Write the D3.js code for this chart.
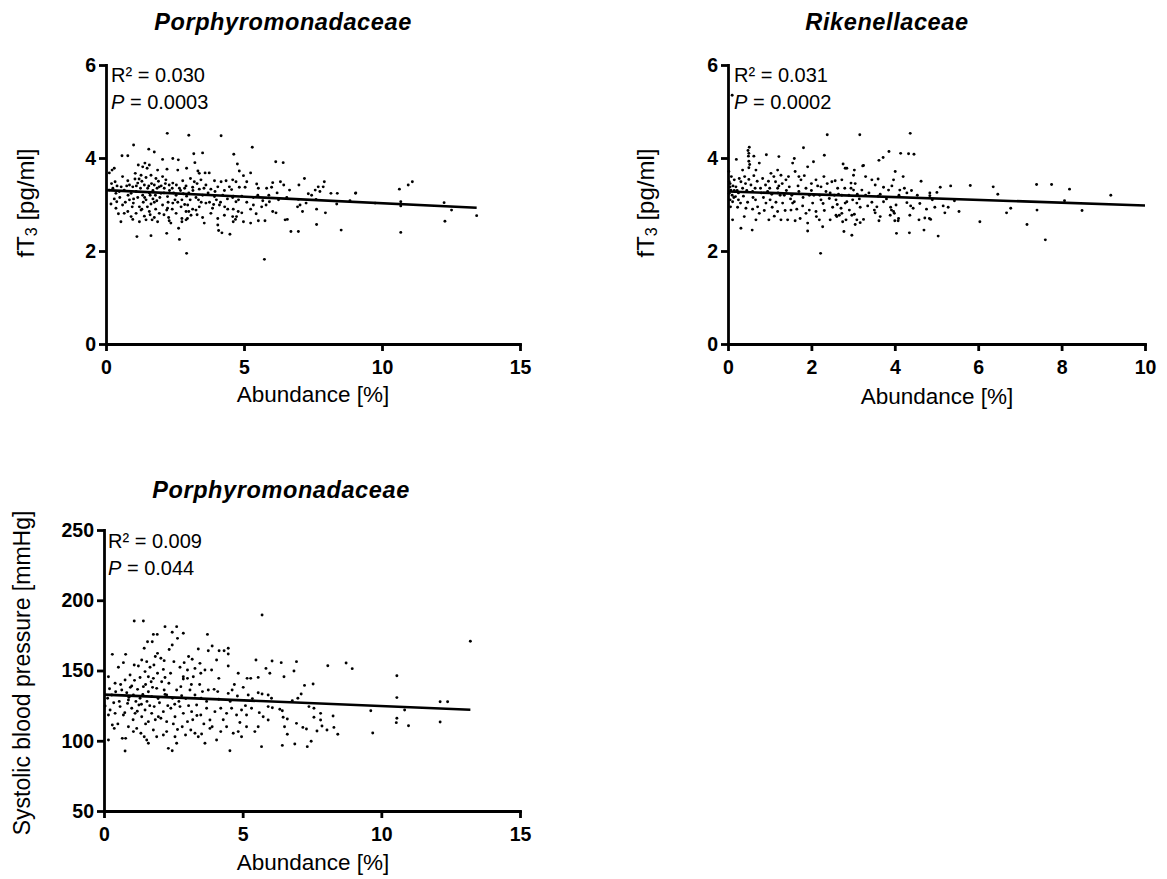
<!DOCTYPE html>
<html><head><meta charset="utf-8">
<script src="https://cdn.jsdelivr.net/npm/d3@7"></script>
<style>
body{margin:0;background:#fff}
svg{display:block}
text{font-family:"Liberation Sans",Arial,sans-serif;fill:#000}
</style>
</head><body>
<svg id="c" width="1167" height="879"></svg>
<script>
// ---------------- DATA ----------------
const panelTitles = ["Porphyromonadaceae", "Rikenellaceae", "Porphyromonadaceae"];
const xTicksPorph = [0, 5, 10, 15];
const xTicksRiken = [0, 2, 4, 6, 8, 10];
const yTicksFT3 = [0, 2, 4, 6];
const yTicksSBP = [50, 100, 150, 200, 250];
const statsR2 = ["0.030", "0.031", "0.009"];
const statsP = ["0.0003", "0.0002", "0.044"];

// regression lines [x, y] endpoints
const fitPorphFT3 = [[0, 3.31], [13.43, 2.93]];
const fitRikenFT3 = [[0, 3.28], [10, 2.98]];
const fitPorphSBP = [[0, 132.8], [13.21, 122.1]];

// Porphyromonadaceae abundance [%] vs fT3 [pg/ml]
const porphFT3 = [
[2.22,4.53],[3.0,4.49],[4.17,4.48],[1.0,4.28],[1.55,4.19],[1.75,4.13],[0.58,4.05],[0.79,4.05],[3.18,4.09],[3.5,4.11],[4.63,4.08],
[2.05,3.97],[2.42,3.99],[2.62,3.96],[1.41,3.89],[1.17,3.85],[1.57,3.85],[1.33,3.81],[1.49,3.78],[1.87,3.74],[2.21,3.76],[2.6,3.74],[2.92,3.78],[3.22,3.9],[3.74,3.68],[3.59,3.68],[3.38,3.67],[3.33,3.72],[0.22,3.74],[0.12,3.68],[0.3,3.78],
[1.06,3.67],[1.27,3.63],[1.63,3.63],[1.81,3.56],[2.05,3.6],[2.17,3.53],[2.42,3.46],[2.78,3.51],[3.06,3.56],[3.2,3.49],[3.44,3.53],[3.93,3.51],[4.17,3.49],[4.35,3.51],[4.59,3.53],
[0.33,3.49],[0.79,3.51],[0.85,3.42],[0.97,3.38],[1.15,3.46],[1.39,3.42],[1.51,3.35],[1.75,3.42],[1.93,3.38],[2.11,3.35],[2.29,3.42],[2.66,3.35],[2.9,3.4],[3.14,3.37],[3.38,3.33],[3.62,3.42],[3.8,3.33],[4.05,3.38],[4.29,3.3],[4.47,3.38],
[0.12,3.31],[0.36,3.24],[0.48,3.28],[0.66,3.31],[0.91,3.24],[1.09,3.28],[1.33,3.2],[1.57,3.25],[1.79,3.2],[1.99,3.24],[2.23,3.17],[2.54,3.2],[2.8,3.23],[2.92,3.18],[3.26,3.15],[3.5,3.2],[3.93,3.17],[4.23,3.2],[4.59,3.15],
[0.18,3.01],[0.39,3.06],[0.6,2.99],[0.85,3.1],[0.99,3.03],[1.21,2.95],[1.45,3.1],[1.63,3.01],[1.84,3.08],[2.05,2.99],[2.23,2.92],[2.42,3.03],[2.72,2.95],[2.96,2.99],[3.14,2.9],[3.38,2.95],[3.62,3.03],[3.86,2.92],[4.11,2.99],[4.41,2.9],
[0.66,2.81],[0.79,2.85],[0.91,2.74],[1.09,2.81],[1.27,2.88],[1.39,2.75],[1.57,2.85],[1.75,2.72],[1.93,2.81],[2.2,2.88],[2.27,2.72],[2.54,2.81],[2.75,2.7],[2.9,2.85],[3.08,2.77],[3.26,2.88],[3.5,2.72],[3.8,2.81],[4.05,2.7],[4.29,2.77],[4.59,2.74],[4.69,2.68],
[0.36,2.92],[0.54,2.63],[0.97,2.68],[1.21,2.63],[1.45,2.67],[1.67,2.67],[1.87,2.63],[2.29,2.65],[2.35,2.6],[2.75,2.63],[2.95,2.7],[3.56,2.6],[4.05,2.56],[2.9,2.67],
[2.2,2.38],[1.63,2.33],[1.12,2.31],[2.66,2.25],[2.92,1.95],[2.63,2.49],[4.08,2.44],[4.2,2.39],[4.49,2.36],
[1.2,3.55],[1.3,3.5],[1.45,3.58],[1.65,3.45],[1.7,3.3],[1.85,3.35],[1.95,3.15],[2.1,3.25],[2.3,3.3],[2.45,3.25],[2.5,3.1],[2.6,3.05],[2.7,3.3],[2.85,3.35],[1.15,3.15],[1.35,3.05],[1.5,2.95],[1.7,3.12],[1.8,2.9],[2.0,3.4],[0.5,3.15],[0.7,3.05],[0.8,3.2],[1.0,3.12],[0.25,3.35],[0.4,3.4],[3.0,3.25],[3.3,3.45],[3.7,3.25],[4.0,3.1],[3.9,3.0],[3.45,3.05],
[1.1,3.4],[1.25,3.35],[1.4,3.15],[1.55,3.4],[1.6,3.2],[1.75,3.05],[1.9,3.5],[2.15,3.45],[2.25,3.05],[2.4,3.35],[2.55,3.42],[2.75,3.1],[2.85,3.0],[3.05,3.1],[3.15,3.3],[3.35,3.1],[3.55,3.35],[3.75,3.05],[3.95,3.28],[4.15,3.05],[4.4,3.12],[4.55,3.32],[0.55,3.38],[0.75,3.4],[0.95,2.95],[1.05,3.55],[0.3,3.12],[0.2,3.45],[0.6,3.6],[0.45,2.8],[1.3,2.9],[1.6,2.78],[2.1,2.78],[2.4,2.9],[3.0,2.85],[3.3,2.78],[4.3,2.95],[4.8,3.1],[5.5,3.2],[6.2,3.25],[5.1,3.05],[5.9,3.2],
[5.30,4.23],[4.76,3.87],[4.83,3.72],[4.98,3.62],[5.24,3.68],[6.15,3.92],[6.42,3.9],[4.71,3.49],[4.83,3.37],[5.04,3.37],[5.1,3.49],[5.46,3.44],[5.52,3.35],[5.82,3.35],[6.04,3.47],[6.0,3.37],[6.32,3.49],[6.44,3.42],[6.65,3.31],[6.99,3.42],[7.19,3.56],[7.33,3.23],[7.45,3.2],[7.58,3.31],[7.69,3.38],[7.75,3.28],[7.91,3.49],[7.87,3.38],[8.15,3.24],[8.38,3.24],[9.05,3.25],
[4.61,3.18],[4.92,3.18],[5.34,3.15],[5.68,3.08],[5.92,3.06],[6.25,3.1],[6.55,3.15],[6.97,3.11],[7.25,3.03],[7.61,3.11],[8.36,3.01],[8.84,3.08],
[4.71,3.06],[4.61,2.9],[4.79,2.85],[4.92,2.82],[4.73,2.74],[5.24,2.9],[5.34,2.99],[5.44,2.8],[5.64,2.95],[5.8,2.99],[6.04,2.85],[6.16,2.82],[6.49,2.67],[6.57,2.68],[6.94,2.95],[7.03,2.99],[7.12,2.85],[7.63,2.9],[7.95,2.82],[7.63,2.57],[4.61,2.63],[4.98,2.63],[5.24,2.6],[5.52,2.65],[5.76,2.65],[6.7,2.42],[6.97,2.42],[8.52,2.45],[5.74,1.82],
[9.04,3.24],[10.63,3.33],[10.95,3.42],[11.1,3.49],[9.75,3.03],[10.68,3.06],[10.68,2.97],[12.25,3.04],[12.52,2.88],[13.43,2.76],[12.28,2.64],[10.68,2.4]
];

// Rikenellaceae abundance [%] vs fT3 [pg/ml]
const rikenFT3 = [
[0.1,5.35],
[2.38,4.50],[3.16,4.50],[4.37,4.53],[1.81,4.22],[0.51,4.23],[0.48,4.16],[0.5,4.1],[0.49,4.04],[0.5,3.93],[0.52,3.86],[0.5,3.79],[0.62,4.04],
[3.86,4.14],[4.14,4.1],[4.33,4.09],[4.46,4.08],[3.62,3.95],[3.72,4.01],[0.92,4.07],[1.22,4.03],[0.2,3.97],[1.59,3.99],[2.05,3.92],[2.31,4.06],[2.76,3.87],[3.03,3.74],[3.25,3.84],[4.01,3.71],[4.63,3.5],[5.09,3.37],[5.34,3.4],[5.81,3.41],[6.36,3.38],[6.47,3.22],[7.4,3.43],[7.76,3.43],[8.19,3.33],[9.18,3.2],[8.07,3.08],[8.49,2.87],[7.41,2.88],[7.17,2.57],[7.61,2.24],[6.04,2.63],[6.68,2.82],[6.78,2.92],[5.54,2.85],[5.2,2.82],[5.28,2.94],[5.43,3.08],[5.01,3.26],[4.84,3.19],[4.9,3.1],[4.72,2.71],[4.86,2.68],[4.7,2.45],[5.04,2.32],[4.35,2.39],[4.04,2.38],[4.08,2.65],[3.92,2.88],[3.99,2.81],[3.62,2.65],[3.51,2.88],[2.97,2.34],[2.78,2.42],[2.22,1.95],[1.91,2.43],[0.58,2.45],[0.31,2.49],[0.11,2.67],
[0.02,3.71],[0.03,3.49],[0.05,3.38],[0.07,3.31],[0.03,3.24],[0.1,3.2],[0.05,3.1],[0.11,3.06],[0.06,2.95],[0.15,3.53],[0.19,3.38],[0.18,3.17],[0.23,2.94],[0.27,3.56],[0.31,3.49],[0.35,3.35],[0.37,3.18],[0.3,3.03],[0.43,2.92],[0.39,2.74],[0.5,3.54],[0.55,3.42],[0.59,3.28],[0.66,3.1],[0.71,2.95],[0.75,2.81],[0.67,2.67],[0.83,3.56],[0.9,3.42],[0.95,3.28],[1.01,3.1],[1.06,2.94],[1.11,2.75],[1.03,3.67],[1.14,3.49],[1.19,3.35],[1.25,3.2],[1.31,3.03],[1.37,2.87],[1.43,2.67],[1.19,3.74],[1.27,3.63],[1.39,3.53],[1.47,3.38],[1.53,3.2],[1.59,3.06],[1.65,2.9],[1.73,2.7],[1.61,3.71],[1.75,3.53],[1.87,3.35],[1.95,3.2],[2.03,3.03],[2.11,2.85],[2.19,2.67],[2.27,2.52],[1.55,3.89],[1.91,3.81],[2.11,3.53],[2.23,3.38],[2.35,3.28],[2.43,3.13],[2.51,2.94],[2.59,2.77],[2.23,3.1],[2.49,3.49],[2.63,3.35],[2.73,3.2],[2.81,3.03],[2.91,2.88],[2.83,2.67],[2.95,3.46],[2.81,3.78],[2.99,3.1],[3.03,2.79],[3.01,3.63],[0.75,3.89],[0.35,3.74],[0.67,3.74],
[0.59,2.9],[0.87,2.87],[0.98,2.67],[1.19,2.85],[1.27,2.67],[1.51,2.88],[1.61,2.65],[1.87,2.81],[1.91,2.6],[2.12,2.74],[2.31,2.87],[2.45,2.67],[2.67,2.77],[2.75,2.63],[0.91,3.03],[1.55,3.03],[1.79,2.97],[1.95,2.88],[2.71,2.92],
[2.57,3.51],[2.73,3.53],[2.85,3.78],[3.23,3.83],[3.45,3.53],[3.53,3.42],[3.73,3.37],[3.85,3.31],[3.93,3.4],[3.97,3.53],[4.12,3.31],[4.23,3.35],[4.29,3.25],[4.54,3.2],[4.84,3.25],[3.21,3.31],[3.01,3.31],[2.95,3.35],
[2.59,3.1],[2.85,3.06],[3.09,3.03],[3.17,2.94],[3.35,2.97],[3.57,2.95],[3.73,3.06],[3.9,2.94],[3.97,2.85],[4.03,2.99],[4.29,3.04],[4.38,2.97],[4.44,2.92],[4.6,3.02],[4.76,2.9],[4.96,2.94],[5.16,2.97],
[2.61,2.74],[2.73,2.81],[2.97,2.77],[3.09,2.67],[3.25,2.68],[3.53,2.82],[3.65,2.74],[3.89,2.77],[4.0,2.65],[4.09,2.7],[4.36,2.77],[4.58,2.67],[4.83,2.7],[3.05,2.57],[3.17,2.61],
[0.15,3.3],[0.25,3.25],[0.45,3.3],[0.65,3.35],[0.8,3.25],[1.0,3.35],[1.2,3.25],[1.4,3.3],[1.7,3.28],[2.0,3.3],[2.2,3.2],[2.45,3.25],[2.65,3.22],[2.9,3.2],[3.1,3.22],[3.3,3.2],[3.6,3.18],[0.4,3.6],[0.7,3.5],[1.1,3.6],[1.3,3.45],[1.7,3.6],[2.0,3.45],[2.3,3.6],
[0.05,3.45],[0.08,3.6],[0.12,3.4],[0.14,3.15],[0.22,3.3],[0.25,3.1],[0.42,3.45],[0.47,3.05],[0.6,3.15],[0.62,3.62],[0.78,3.35],[0.85,3.15],[0.97,3.5],[1.05,3.22],[1.15,3.05],[1.22,3.4],[1.35,3.2],[1.45,3.6],[1.5,3.12],[1.68,3.4],[1.8,3.15],[1.83,3.62],[2.06,3.2],[2.15,3.4],[2.28,3.02],[2.38,3.45],[2.55,3.2],[2.62,3.0],[2.8,3.35],[3.05,3.45],[3.15,3.12],[3.38,3.25],[3.45,3.05],[3.65,3.22],[3.8,3.12],[4.1,3.2],[4.4,3.3],[4.2,3.6],[3.3,3.6],[3.6,3.55]
];

// Porphyromonadaceae abundance [%] vs systolic blood pressure [mmHg]
const porphSBP = [
[1.09,185.2],[1.42,185.2],[2.2,181.2],[2.62,181.2],[2.46,177.2],[2.65,172.9],[2.86,176.5],[1.78,175.7],[1.92,175.7],[1.57,170.5],[1.74,170.5],[2.46,168.1],[3.73,175.7],[3.9,167.4],[3.76,164.1],[4.15,164.1],[4.33,164.1],[4.48,165.8],[5.7,189.5],[1.45,165.8],[1.93,162.2],[2.05,158.7],[2.17,157],[0.3,161.5],[0.78,161.5],[3.4,165.3],[4.48,161.7],[5.48,157.5],[6.06,156.8],[5.84,151.5],[5.98,148],
[0.52,152.3],[0.7,155.6],[1.09,153.9],[1.24,153.2],[1.36,157.5],[1.54,156.3],[1.66,152.3],[1.8,153.9],[1.48,149.2],[1.6,145.6],[1.78,144.4],[1.93,148],[2.14,150.8],[2.52,156.3],[2.74,152.3],[2.89,155.6],[3.01,150.4],[3.18,158],[3.28,151.5],[3.46,155.1],[2.86,145.6],[3.01,144.4],[3.22,145.6],[3.49,148],[3.64,150.4],[3.88,150.4],[4.06,157.5],[4.14,144.4],[4.48,153.2],[4.84,148],[5.16,144.4],[5.29,144.4],[5.56,145.1],[0.16,145.6],[0.4,140.9],[0.76,143.2],[0.94,146.8],[1.0,139],
[0.13,130.2],[0.28,132.6],[0.42,134.9],[0.64,136.1],[0.82,134.2],[0.88,129],[1.06,132.6],[1.21,136.6],[1.3,130.2],[1.42,138.5],[1.6,134.9],[1.72,131.4],[1.9,137.3],[2.08,142],[2.17,136.1],[2.26,132.6],[2.34,140.9],[2.47,130.2],[2.62,136.1],[2.77,138.5],[2.86,144],[3.1,136.1],[3.28,132.6],[3.5,130.2],[3.76,136.1],[3.97,136.6],[4.14,129.5],[4.48,133.7],[4.62,136.1],[4.81,131.9],[5.02,138],[5.2,132.6],[5.56,134.2],[5.7,133.3],[5.92,132.6],[6.04,130.2],
[0.04,124.7],[0.22,121.9],[0.4,119.5],[0.58,124.3],[0.7,118.3],[0.85,126.6],[1.0,123.1],[1.12,119.5],[1.26,125.4],[1.36,117.1],[1.48,121.9],[1.6,113.6],[1.72,119.5],[1.81,124.3],[1.96,117.1],[2.14,120.7],[2.26,113.6],[2.41,123.1],[2.56,117.1],[2.74,124.3],[2.86,119.5],[3.01,113.6],[3.16,120.7],[3.34,125.4],[3.49,118.3],[3.7,123.1],[3.82,114.8],[4.0,120.7],[4.21,123.1],[4.42,119.5],[4.6,123.1],[4.78,118.3],[4.96,121.9],[5.14,118.3],[5.32,123.1],[5.56,110],[5.74,117.1],[5.92,124.3],[5.92,114.8],
[0.16,118.3],[0.3,111.2],[0.37,108.8],[0.16,100.5],[0.66,101.7],[0.78,101.7],[0.76,92.7],[0.88,110],[1.06,106.5],[1.18,108.8],[1.33,105.3],[1.45,102.9],[1.54,100.5],[1.6,98.2],[1.78,107.6],[1.9,102.9],[2.14,104.1],[2.26,106.5],[2.32,94.6],[2.46,92.9],[2.56,102.9],[2.62,98.2],[2.82,110],[2.94,104.1],[3.13,107.6],[3.28,105.3],[3.4,102.9],[3.52,104.8],[3.64,98.2],[3.82,108.8],[4.06,100.5],[4.21,106.5],[4.42,110],[4.54,92.9],[4.66,105.3],[4.84,106.5],[4.96,102.9],[5.14,110],[5.44,106.5],[5.68,95.8],
[1.15,128],[1.35,126],[1.5,140],[1.55,128],[1.7,142],[1.85,115],[2.0,127],[2.2,145],[2.3,125],[2.5,112],[2.7,128],[2.95,130],[3.2,115],[3.45,140],[3.6,112],[1.3,145],[1.05,115],[0.95,138],[0.55,128],[0.5,112],
[0.6,140],[0.75,120],[0.9,131],[1.1,143],[1.2,121],[1.4,133],[1.5,112],[1.65,125],[1.75,138],[1.95,130],[2.05,116],[2.2,133],[2.4,148],[2.55,126],[2.65,108],[2.8,132],[3.05,125],[3.15,140],[3.35,118],[3.55,135],[3.7,128],[3.9,110],[4.1,135],[4.3,115],[4.55,128],[4.7,140],[4.9,113],[5.1,125],[5.35,130],[5.6,120],[0.35,127],[0.2,137],[1.85,160],[2.35,165],[3.05,160],
[6.39,155.6],[6.94,156.3],[6.85,149.6],[6.49,145.6],[7.23,139.4],[7.54,140.4],[7.11,133.3],[6.99,130.2],[6.79,128.5],[8.07,153.4],[8.73,155.3],[8.95,151.3],[10.56,146.3],[10.56,130.7],[10.84,121.9],[10.56,116],[10.54,112.9],[10.98,110.7],[12.12,127.8],[12.39,127.8],[12.12,113.3],[9.62,121.4],[9.69,105.5],[6.07,123.5],[6.34,122.4],[6.43,121.4],[6.46,116.7],[6.61,115.5],[6.51,110],[6.61,104.6],[6.43,96.7],[6.88,97.7],[7.33,95.8],[7.47,99.6],[7.39,124.3],[7.57,123.1],[7.57,116.7],[7.81,119.5],[7.81,114.8],[8.26,117.6],[7.86,110.5],[7.68,106.9],[8.04,107.6],[8.29,109.5],[8.43,104.6],[6.94,112.4],[7.17,109.5],[7.3,108.4],[13.21,170.8]
];

// ---------------- DRAW ----------------
const svg = d3.select("#c");

const panels = [
  {title: panelTitles[0], data: porphFT3, fit: fitPorphFT3, xDomain: [0, 15], yDomain: [0, 6], xTicks: xTicksPorph, yTicks: yTicksFT3,
   r2: statsR2[0], p: statsP[0], yLabel: "ft3",
   box: {left: 106, right: 520, top: 65, bottom: 344}, titleX: 283, titleY: 22, xLabX: 313, xLabY: 394, yLabX: 25, yLabY: 203, statX: 111, statY: 75},
  {title: panelTitles[1], data: rikenFT3, fit: fitRikenFT3, xDomain: [0, 10], yDomain: [0, 6], xTicks: xTicksRiken, yTicks: yTicksFT3,
   r2: statsR2[1], p: statsP[1], yLabel: "ft3",
   box: {left: 728, right: 1145, top: 65, bottom: 344}, titleX: 887, titleY: 22, xLabX: 937, xLabY: 396, yLabX: 645, yLabY: 203, statX: 734, statY: 75},
  {title: panelTitles[2], data: porphSBP, fit: fitPorphSBP, xDomain: [0, 15], yDomain: [50, 250], xTicks: xTicksPorph, yTicks: yTicksSBP,
   r2: statsR2[2], p: statsP[2], yLabel: "Systolic blood pressure [mmHg]",
   box: {left: 104, right: 520, top: 530, bottom: 811}, titleX: 281, titleY: 490, xLabX: 313, xLabY: 862, yLabX: 22, yLabY: 673, statX: 108, statY: 541}
];

panels.forEach(cfg => {
  const b = cfg.box;
  const g = svg.append("g");
  const x = d3.scaleLinear().domain(cfg.xDomain).range([b.left, b.right]);
  const y = d3.scaleLinear().domain(cfg.yDomain).range([b.bottom, b.top]);

  // points
  g.append("g").selectAll("circle").data(cfg.data).join("circle")
    .attr("cx", d => x(d[0])).attr("cy", d => y(d[1])).attr("r", 1.45).attr("fill", "#000");

  // regression line
  g.append("path").datum(cfg.fit)
    .attr("d", d3.line().x(d => x(d[0])).y(d => y(d[1])))
    .attr("stroke", "#000").attr("stroke-width", 2.6).attr("fill", "none");

  // axes
  const xa = g.append("g").attr("transform", `translate(0,${b.bottom})`)
    .call(d3.axisBottom(x).tickValues(cfg.xTicks).tickSize(7).tickSizeOuter(0).tickPadding(9).tickFormat(d3.format("d")));
  const ya = g.append("g").attr("transform", `translate(${b.left},0)`)
    .call(d3.axisLeft(y).tickValues(cfg.yTicks).tickSize(7).tickSizeOuter(0).tickPadding(3).tickFormat(d3.format("d")));
  [xa, ya].forEach(a => {
    a.select(".domain").attr("stroke", "#000").attr("stroke-width", 2.8).attr("stroke-linecap", "square");
    a.selectAll(".tick line").attr("stroke", "#000").attr("stroke-width", 2.8);
    a.selectAll(".tick text").attr("font-family", "Liberation Sans, Arial, sans-serif")
      .attr("font-size", 19.5).attr("font-weight", "bold").attr("fill", "#000");
  });

  // title
  g.append("text").attr("x", cfg.titleX).attr("y", cfg.titleY)
    .attr("text-anchor", "middle").attr("dominant-baseline", "central")
    .attr("font-size", 23.5).attr("font-weight", "bold").attr("font-style", "italic")
    .attr("letter-spacing", 0.6).text(cfg.title);

  // x label
  g.append("text").attr("x", cfg.xLabX).attr("y", cfg.xLabY)
    .attr("text-anchor", "middle").attr("dominant-baseline", "central")
    .attr("font-size", 22.5).text("Abundance [%]");

  // y label
  const yl = g.append("text")
    .attr("transform", `translate(${cfg.yLabX},${cfg.yLabY}) rotate(-90)`)
    .attr("text-anchor", "middle").attr("dominant-baseline", "central");
  if (cfg.yLabel === "ft3") {
    yl.attr("font-size", 24);
    yl.append("tspan").text("fT");
    yl.append("tspan").attr("font-size", 16).attr("dy", 6).text("3");
    yl.append("tspan").attr("dy", -6).text(" [pg/ml]");
  } else {
    yl.attr("font-size", 23).text(cfg.yLabel);
  }

  // stats
  g.append("text").attr("x", cfg.statX).attr("y", cfg.statY)
    .attr("dominant-baseline", "central").attr("font-size", 20)
    .text("R\u00B2 = " + cfg.r2);
  const pt = g.append("text").attr("x", cfg.statX).attr("y", cfg.statY + 27)
    .attr("dominant-baseline", "central").attr("font-size", 20);
  pt.append("tspan").attr("font-style", "italic").text("P");
  pt.append("tspan").text(" = " + cfg.p);
});
</script>
</body></html>
